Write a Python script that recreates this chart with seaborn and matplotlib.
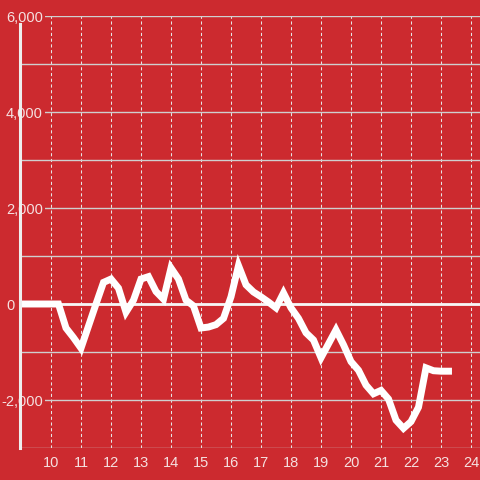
import matplotlib
matplotlib.use('Agg')
import matplotlib.pyplot as plt
import matplotlib.transforms as mtransforms
from matplotlib.ticker import FuncFormatter
import seaborn as sns

# hours of the day (quarter-hour steps) and the running value
hours = [9.0, 9.25, 9.5, 9.75, 10.0, 10.25, 10.5, 10.75, 11.0, 11.25,
         11.5, 11.75, 12.0, 12.25, 12.5, 12.75, 13.0, 13.25, 13.5, 13.75,
         14.0, 14.25, 14.5, 14.75, 15.0, 15.25, 15.5, 15.75, 16.0, 16.25,
         16.5, 16.75, 17.0, 17.25, 17.5, 17.75, 18.0, 18.25, 18.5, 18.75,
         19.0, 19.25, 19.5, 19.75, 20.0, 20.25, 20.5, 20.75, 21.0, 21.25,
         21.5, 21.75, 22.0, 22.25, 22.5, 22.75, 23.0, 23.25]
values = [0, 0, 0, 0, 0, 0, -500, -700, -920, -460,
          0, 450, 520, 330, -170, 80, 520, 570, 260, 100,
          750, 520, 80, -40, -500, -480, -430, -300, 150, 800,
          400, 250, 150, 40, -80, 230, -80, -300, -600, -750,
          -1120, -830, -540, -850, -1200, -1380, -1690, -1870, -1800, -1980,
          -2420, -2590, -2450, -2150, -1330, -1390, -1400, -1400]

x_ticks = list(range(10, 25))
y_ticks = [-2000, 0, 2000, 4000, 6000]
y_minor = [-3000, -1000, 1000, 3000, 5000]

bg = '#cc2a2f'
text_color = '#f5e0e0'

sns.set_style('white', {'axes.facecolor': bg, 'figure.facecolor': bg})
plt.rcParams['font.family'] = ['Liberation Sans', 'DejaVu Sans']

fig = plt.figure(figsize=(4.8, 4.8), dpi=100)
ax = fig.add_axes([20 / 480, 1 - 448 / 480, 460 / 480, 432 / 480])

# zero line, then the series on top
ax.axhline(0, color='#f7f7f7', linewidth=2, zorder=1.5)
sns.lineplot(x=hours, y=values, ax=ax, color='white', linewidth=5,
             solid_capstyle='projecting', solid_joinstyle='miter', zorder=2)

ax.set_xlim(8.967, 24.3)
ax.set_ylim(-3000, 6000)
ax.set_xticks(x_ticks)
ax.set_yticks(y_ticks)
ax.set_yticks(y_minor, minor=True)
ax.yaxis.set_major_formatter(FuncFormatter(lambda v, p: f'{int(v):,}'))

# grid: solid horizontals, dotted verticals
ax.grid(False)
ax.yaxis.grid(True, which='both', color='#cfcfcf', linewidth=1, linestyle='-')
ax.xaxis.grid(True, which='major', color='#e6e6e6', linewidth=0.75,
              linestyle=(0, (3, 2.5)))
ax.set_axisbelow(True)

for side in ['top', 'right', 'bottom']:
    ax.spines[side].set_visible(False)
ax.spines['left'].set_color('#eeeeee')
ax.spines['left'].set_linewidth(2.2)
ax.spines['left'].set_bounds(-3000, 5833)

ax.tick_params(axis='x', length=0, pad=6, labelsize=10.5, labelcolor=text_color)
ax.tick_params(axis='y', which='both', length=0, pad=-16.5, labelsize=10.5,
               labelcolor=text_color)
for label in ax.get_yticklabels():
    label.set_bbox(dict(facecolor=bg, edgecolor='none', pad=1.5))

# the "0" label sits further left than the others
for tick in ax.yaxis.get_major_ticks():
    if tick.get_loc() == 0:
        lab = tick.label1
        lab.set_transform(lab.get_transform() +
                          mtransforms.ScaledTranslation(-0.28, 0, fig.dpi_scale_trans))
        lab.set_bbox(None)

ax.set_xlabel('')
ax.set_ylabel('')

fig.savefig('out.png', dpi=100, facecolor=bg)
